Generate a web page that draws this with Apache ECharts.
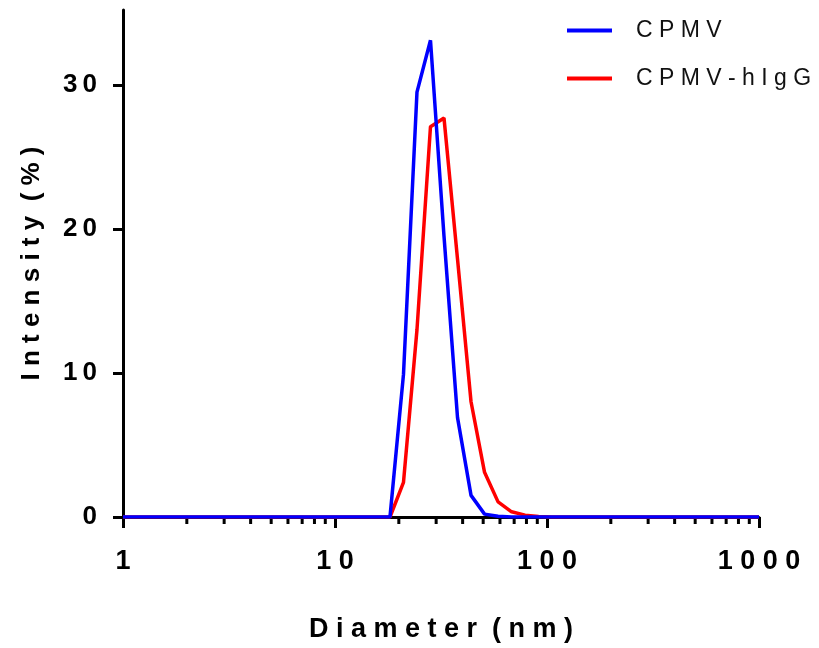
<!DOCTYPE html>
<html>
<head>
<meta charset="utf-8">
<script src="https://cdn.jsdelivr.net/npm/echarts@6/dist/echarts.min.js"></script>
<style>html,body{margin:0;padding:0;background:#fff}#c{width:819px;height:648px}</style>
</head>
<body>
<div id="c"></div>
<script>
// Data
const diameters = [1, 15.69, 18.17, 21.04, 24.36, 28.21, 32.67, 37.84, 43.82, 50.75, 58.77, 68.06, 78.82, 91.28, 105.7, 1000];
const cpmv      = [0, 0, 0, 9.9, 29.5, 33.1, 19.5, 6.9, 1.5, 0.2, 0.05, 0, 0, 0, 0, 0];
const cpmvHIgG  = [0, 0, 0, 2.4, 13.0, 27.1, 27.7, 17.9, 8.0, 3.1, 1.05, 0.36, 0.13, 0.03, 0, 0];
const seriesNames = ['CPMV', 'CPMV-hIgG'];
const yTickValues = [0, 10, 20, 30];
const minorTickValues = [2,3,4,5,6,7,8,9,20,30,40,50,60,70,80,90,200,300,400,500,600,700,800,900];
const xTitle = 'Diameter (nm)';
const yTitle = 'Intensity (%)';

const FONT = "'Liberation Sans', Arial, sans-serif";
function spaced(s, sep) { return Array.from(s).join(sep); }

const chart = echarts.init(document.getElementById('c'), null, { renderer: 'canvas' });
const pairs = arr => diameters.map((d, i) => [d, arr[i]]);

chart.setOption({
  animation: false,
  backgroundColor: '#fff',
  grid: { left: 123, right: 60, top: 10, bottom: 131, containLabel: false, outerBoundsMode: 'none' },
  legend: {
    orient: 'vertical',
    left: 562,
    top: 14,
    data: seriesNames,
    icon: 'rect',
    itemWidth: 45,
    itemHeight: 4,
    itemGap: 25,
    textStyle: { fontFamily: FONT, fontSize: 23, color: '#111', padding: [0, 0, 0, 19], lineHeight: 23 },
    formatter: n => spaced(n, ' ')
  },
  xAxis: {
    type: 'log',
    logBase: 10,
    min: 1,
    max: 1000,
    name: spaced('Diameter', ' ') + '  ' + spaced('(nm)', ' '),
    nameLocation: 'middle',
    nameGap: 99,
    nameTextStyle: { fontFamily: FONT, fontSize: 27, fontWeight: 'bold', color: '#000' },
    axisLine: { show: true, lineStyle: { color: '#000', width: 3 } },
    axisTick: { show: true, length: 11, lineStyle: { color: '#000', width: 3 } },
    axisLabel: { margin: 31, fontFamily: FONT, fontSize: 27, fontWeight: 'bold', color: '#000',
                 formatter: v => spaced(String(v), ' ') },
    splitLine: { show: false },
    minorTick: { show: false }
  },
  yAxis: {
    type: 'value',
    min: 0,
    max: 35.2,
    name: spaced('Intensity', ' ') + '  ' + spaced('(%)', ' '),
    nameLocation: 'middle',
    nameGap: 78,
    nameTextStyle: { fontFamily: FONT, fontSize: 26, fontWeight: 'bold', color: '#000' },
    axisLine: { show: true, lineStyle: { color: '#000', width: 3 } },
    axisTick: { show: true, length: 10, customValues: yTickValues, lineStyle: { color: '#000', width: 3 } },
    axisLabel: { margin: 26, customValues: yTickValues, fontFamily: FONT, fontSize: 26, fontWeight: 'bold', color: '#000',
                 formatter: v => spaced(String(v), '\u2009') },
    splitLine: { show: false }
  },
  series: [
    {
      type: 'custom',
      name: 'minorTicks',
      data: minorTickValues.map(v => [v]),
      clip: false,
      silent: true,
      z: 1,
      renderItem: (params, api) => {
        const p = api.coord([api.value(0), 0]);
        return { type: 'line', shape: { x1: p[0], y1: p[1], x2: p[0], y2: p[1] + 7 },
                 style: { stroke: '#000', lineWidth: 3 } };
      }
    },
    {
      type: 'line',
      name: 'CPMV-hIgG',
      data: pairs(cpmvHIgG),
      symbol: 'none',
      lineStyle: { color: '#ff0000', width: 3.5 },
      itemStyle: { color: '#ff0000' },
      z: 3
    },
    {
      type: 'line',
      name: 'CPMV',
      data: pairs(cpmv),
      symbol: 'none',
      lineStyle: { color: '#0000ff', width: 3.5 },
      itemStyle: { color: '#0000ff' },
      z: 4
    }
  ]
});
</script>
</body>
</html>
